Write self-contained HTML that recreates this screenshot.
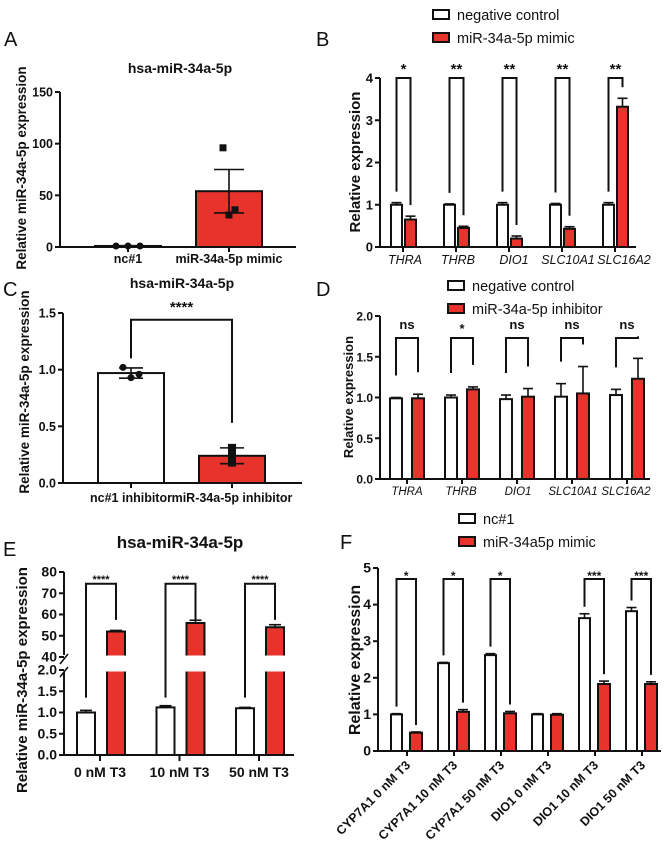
<!DOCTYPE html>
<html><head><meta charset="utf-8">
<style>
html,body{margin:0;padding:0;background:#fff;}
svg{display:block;font-family:"Liberation Sans",Arial,sans-serif;}
</style></head>
<body>
<svg id="fig" width="667" height="855" viewBox="0 0 667 855" xmlns="http://www.w3.org/2000/svg"></svg>
<script>
// ---------- DATA ----------
// Panel A
const aCats = ["nc#1", "miR-34a-5p mimic"];
const aMeans = [1, 54];
const aErr = [0.3, 21];
const aPoints = [[1, 1, 1], [96, 31, 36]];
const aTicks = [0, 50, 100, 150];
// Panel B
const bCats = ["THRA", "THRB", "DIO1", "SLC10A1", "SLC16A2"];
const bCtrl = [1, 1, 1, 1, 1];
const bCtrlErr = [0.05, 0.02, 0.05, 0.03, 0.05];
const bMimic = [0.65, 0.45, 0.2, 0.43, 3.32];
const bMimicErr = [0.08, 0.04, 0.06, 0.05, 0.2];
const bStars = ["*", "**", "**", "**", "**"];
const bTicks = [0, 1, 2, 3, 4];
// Panel C
const cCats = ["nc#1 inhibitor", "miR-34a-5p inhibitor"];
const cMeans = [0.97, 0.24];
const cErr = [0.045, 0.07];
const cPoints = [[1.02, 0.93, 0.96], [0.31, 0.2, 0.18, 0.26]];
const cTicks = [0, 0.5, 1.0, 1.5];
// Panel D
const dCats = ["THRA", "THRB", "DIO1", "SLC10A1", "SLC16A2"];
const dCtrl = [0.99, 1.0, 0.98, 1.01, 1.03];
const dCtrlErr = [0.01, 0.03, 0.05, 0.16, 0.07];
const dInh = [0.99, 1.1, 1.01, 1.05, 1.23];
const dInhErr = [0.05, 0.03, 0.1, 0.33, 0.25];
const dStars = ["ns", "*", "ns", "ns", "ns"];
const dTicks = [0, 0.5, 1.0, 1.5, 2.0];
// Panel E
const eCats = ["0 nM T3", "10 nM T3", "50 nM T3"];
const eCtrl = [1.0, 1.12, 1.1];
const eCtrlErr = [0.05, 0.04, 0.02];
const eMimic = [52, 56, 54];
const eMimicErr = [0.5, 1.3, 1.2];
const eLowTicks = [0, 0.5, 1.0, 1.5, 2.0];
const eHighTicks = [40, 50, 60, 70, 80];
// Panel F
const fCats = ["CYP7A1 0 nM T3", "CYP7A1 10 nM T3", "CYP7A1 50 nM T3", "DIO1 0 nM T3", "DIO1 10 nM T3", "DIO1 50 nM T3"];
const fCtrl = [1.0, 2.4, 2.62, 1.0, 3.63, 3.82];
const fCtrlErr = [0.02, 0.02, 0.04, 0.02, 0.12, 0.1];
const fMimic = [0.5, 1.07, 1.03, 0.99, 1.83, 1.83];
const fMimicErr = [0.02, 0.06, 0.05, 0.03, 0.08, 0.06];
const fStars = ["*", "*", "*", "", "***", "***"];
const fTicks = [0, 1, 2, 3, 4, 5];

// ---------- HELPERS ----------
const NS = "http://www.w3.org/2000/svg";
const svg = document.getElementById("fig");
const RED = "#e8322c";
function mk(tag, attrs, name, parent) {
  const e = document.createElementNS(NS, tag);
  for (const k in attrs) e.setAttribute(k, attrs[k]);
  
  
  (parent || svg).appendChild(e);
  return e;
}
function txt(x, y, s, name, opts) {
  opts = opts || {};
  const e = mk("text", {x: x, y: y, "font-size": opts.size || 12, "text-anchor": opts.anchor || "middle",
    "font-weight": opts.weight || "bold", "font-style": opts.style || "normal", fill: "#111"}, name, opts.parent);
  if (opts.rot !== undefined) e.setAttribute("transform", "rotate(" + opts.rot + " " + x + " " + y + ")");
  e.textContent = s;
  return e;
}
function line(x1, y1, x2, y2, name, w, g) {
  return mk("line", {x1: x1, y1: y1, x2: x2, y2: y2, stroke: "#111", "stroke-width": w || 2}, name, g);
}
function lin(d0, d1, r0, r1) { return v => r0 + (v - d0) * (r1 - r0) / (d1 - d0); }
function bar(x, w, y0, y1, fill, name, g) {
  return mk("rect", {x: x, y: Math.min(y0, y1), width: w, height: Math.abs(y0 - y1), fill: fill, stroke: "#111", "stroke-width": 2}, name, g);
}
function errbar(cx, yTop, yMid, half, name, g, yBot) {
  line(cx, yMid, cx, yTop, name + "-stem", 1.6, g);
  line(cx - half, yTop, cx + half, yTop, name + "-cap", 1.6, g);
  if (yBot !== undefined) line(cx - half, yBot, cx + half, yBot, name + "-cap-low", 1.6, g);
  if (yBot !== undefined) line(cx, yMid, cx, yBot, name + "-stem-low", 1.6, g);
}
function yAxis(x, ticks, y, fmt, name, g, size) {
  ticks.forEach(t => {
    line(x - 5, y(t), x, y(t), name + "-tick", 2, g);
    txt(x - 7, y(t) + 4.5, fmt(t), name + "-tick-label", {anchor: "end", parent: g, size: size || 13});
  });
}
function bracket(x1, y1, x2, y2, top, label, name, g, ty, size) {
  mk("polyline", {points: x1 + "," + y1 + " " + x1 + "," + top + " " + x2 + "," + top + " " + x2 + "," + y2, fill: "none", stroke: "#111", "stroke-width": 2}, name, g);
  txt((x1 + x2) / 2, ty, label, name + "-label", {parent: g, size: size || 14});
}
function legend(x, y, labels, name) {
  const g = mk("g", {}, name);
  labels.forEach((l, i) => {
    mk("rect", {x: x, y: y + i * 23 - 5, width: 16, height: 9, fill: i ? RED : "#fff", stroke: "#111", "stroke-width": 2}, "legend-swatch", g);
    txt(x + 24, y + i * 23 + 5, l, "legend-entry", {anchor: "start", weight: "normal", size: 14.5, parent: g});
  });
}

// ---------- PANEL LABELS ----------
[["A", 4, 46], ["B", 316, 46], ["C", 3, 296], ["D", 316, 296], ["E", 3, 556], ["F", 340, 549]].forEach(p => {
  txt(p[1], p[2], p[0], "panel-label-" + p[0].toLowerCase(), {anchor: "start", weight: "normal", size: 20});
});

// ---------- PANEL A ----------
(function () {
  const g = mk("g", {}, "panel-a");
  const y = lin(0, 150, 247, 92);
  const cx = [128, 229];
  txt(180, 73, "hsa-miR-34a-5p", "chart-title", {size: 14, parent: g});
  txt(26, 168, "Relative miR-34a-5p expression", "y-axis-title", {rot: -90, size: 13.5, parent: g});
  aMeans.forEach((m, i) => {
    bar(cx[i] - 33, 66, y(0), y(m), i ? RED : "#fff", "bar-" + i, g);
    errbar(cx[i], y(m + aErr[i]), y(m), 15, "error-bar", g, y(m - aErr[i]));
    aPoints[i].forEach((p, j) => {
      const px = cx[i] + (j - 1) * (i ? 6 : 12);
      if (i) mk("rect", {x: px - 3.5, y: y(p) - 3.5, width: 7, height: 7, fill: "#111"}, "data-point", g);
      else mk("circle", {cx: px, cy: y(p), r: 3.5, fill: "#111"}, "data-point", g);
    });
  });
  line(60, 92, 60, 248, "y-axis", 2, g);
  line(59, 247, 296, 247, "x-axis", 2, g);
  yAxis(60, aTicks, y, t => String(t), "y", g, 12.5);
  aCats.forEach((c, i) => { line(cx[i], 247, cx[i], 252, "x-tick", 2, g); txt(cx[i], 263, c, "x-tick-label", {parent: g, size: 12.5}); });
})();

// ---------- PANEL B ----------
legend(433, 15, ["negative control", "miR-34a-5p mimic"], "legend-b");
(function () {
  const g = mk("g", {}, "panel-b");
  const y = lin(0, 4, 247, 78);
  txt(360, 162, "Relative expression", "y-axis-title", {rot: -90, size: 15, parent: g});
  const lcx = [405, 458, 514, 568, 624];
  bCats.forEach((c, i) => {
    const cx = 403 + 53 * i;
    bar(cx - 12, 11, y(0), y(bCtrl[i]), "#fff", "bar-control-" + c, g);
    errbar(cx - 6.5, y(bCtrl[i] + bCtrlErr[i]), y(bCtrl[i]), 5, "error-bar", g);
    bar(cx + 2, 11, y(0), y(bMimic[i]), RED, "bar-mimic-" + c, g);
    errbar(cx + 7.5, y(bMimic[i] + bMimicErr[i]), y(bMimic[i]), 5, "error-bar", g);
    bracket(cx - 6.5, y(bCtrl[i] + bCtrlErr[i]) - 11, cx + 7.5, y(bMimic[i] + bMimicErr[i]) - 11, y(4), bStars[i], "significance-bracket", g, 74, 15);
    line(cx, 247, cx, 252, "x-tick", 2, g);
    txt(lcx[i], 264, c, "x-tick-label", {parent: g, weight: "normal", style: "italic", size: 12.5});
  });
  line(380, 78, 380, 248, "y-axis", 2, g);
  line(379, 247, 636, 247, "x-axis", 2, g);
  yAxis(380, bTicks, y, t => String(t), "y", g, 13);
})();

// ---------- PANEL C ----------
(function () {
  const g = mk("g", {}, "panel-c");
  const y = lin(0, 1.5, 483, 313);
  const cx = [131, 232];
  txt(182, 288, "hsa-miR-34a-5p", "chart-title", {size: 14, parent: g});
  txt(29, 392, "Relative miR-34a-5p expression", "y-axis-title", {rot: -90, size: 13.5, parent: g});
  cMeans.forEach((m, i) => {
    bar(cx[i] - 33, 66, y(0), y(m), i ? RED : "#fff", "bar-" + i, g);
    cPoints[i].forEach((p, j) => {
      const px = cx[i] + (i ? 0 : (j - 1) * 8);
      mk(i ? "rect" : "circle", i ? {x: px - 4, y: y(p) - 4, width: 8, height: 8, fill: "#111"} : {cx: px, cy: y(p), r: 3.5, fill: "#111"}, "data-point", g);
    });
    errbar(cx[i], y(m + cErr[i]), y(m), 12, "error-bar", g, y(m - cErr[i]));
  });
  bracket(cx[0], y(1.1), cx[1], y(0.53), y(1.44), "****", "significance-bracket", g, 312, 15);
  line(63, 313, 63, 484, "y-axis", 2, g);
  line(62, 483, 302, 483, "x-axis", 2, g);
  yAxis(63, cTicks, y, t => t.toFixed(1), "y", g, 12.5);
  cCats.forEach((c, i) => { line(cx[i], 483, cx[i], 488, "x-tick", 2, g); txt(cx[i], 502, c, "x-tick-label", {parent: g, size: 12.5}); });
})();

// ---------- PANEL D ----------
legend(448, 286, ["negative control", "miR-34a-5p inhibitor"], "legend-d");
(function () {
  const g = mk("g", {}, "panel-d");
  const y = lin(0, 2, 479, 316);
  txt(353, 397, "Relative expression", "y-axis-title", {rot: -90, size: 13, parent: g});
  const lcx = [407, 461, 518, 573, 626];
  dCats.forEach((c, i) => {
    const cx = 407 + 55 * i;
    bar(cx - 17, 12, y(0), y(dCtrl[i]), "#fff", "bar-control-" + c, g);
    errbar(cx - 11, y(dCtrl[i] + dCtrlErr[i]), y(dCtrl[i]), 5, "error-bar", g);
    bar(cx + 5, 12, y(0), y(dInh[i]), RED, "bar-inhibitor-" + c, g);
    errbar(cx + 11, y(dInh[i] + dInhErr[i]), y(dInh[i]), 5, "error-bar", g);
    bracket(cx - 11, y(dCtrl[i] + dCtrlErr[i]) - 22, cx + 11, y(dInh[i] + dInhErr[i]) - 22, y(1.73), dStars[i], "significance-bracket", g, dStars[i] === "*" ? 333 : 329, 13);
    line(cx, 479, cx, 484, "x-tick", 2, g);
    txt(lcx[i], 495, c, "x-tick-label", {parent: g, weight: "normal", style: "italic", size: 11.5});
  });
  line(380, 316, 380, 480, "y-axis", 2, g);
  line(379, 479, 650, 479, "x-axis", 2, g);
  yAxis(380, dTicks, y, t => t.toFixed(1), "y", g, 12);
})();

// ---------- PANEL E ----------
(function () {
  const g = mk("g", {}, "panel-e");
  const yl = lin(0, 2, 755, 670);
  const yh = lin(40, 80, 657, 572);
  txt(180, 548, "hsa-miR-34a-5p", "chart-title", {size: 17, parent: g});
  txt(27, 680, "Relative miR-34a-5p expression", "y-axis-title", {rot: -90, size: 15, parent: g});
  eCats.forEach((c, i) => {
    const cx = 100 + 79.5 * i;
    bar(cx - 23, 18, yl(0), yl(eCtrl[i]), "#fff", "bar-control-" + i, g);
    errbar(cx - 14, yl(eCtrl[i] + eCtrlErr[i]), yl(eCtrl[i]), 6, "error-bar", g);
    mk("rect", {x: cx + 7, y: yl(2), width: 18, height: yl(0) - yl(2), fill: RED, stroke: "#111", "stroke-width": 2}, "bar-mimic-lower-" + i, g);
    mk("rect", {x: cx + 7, y: yh(eMimic[i]), width: 18, height: yh(40) - yh(eMimic[i]), fill: RED, stroke: "#111", "stroke-width": 2}, "bar-mimic-upper-" + i, g);
    mk("rect", {x: cx + 5, y: yl(2) - 1.5, width: 22, height: 3, fill: "#fff"}, "bar-break-gap", g);
    mk("rect", {x: cx + 5, y: yh(40) - 1.5, width: 22, height: 3, fill: "#fff"}, "bar-break-gap", g);
    errbar(cx + 16, yh(eMimic[i] + eMimicErr[i]), yh(eMimic[i]), 6, "error-bar", g);
    bracket(cx - 14, yl(1.35), cx + 16, yh(57.5), yh(74.5), "****", "significance-bracket", g, 583, 11);
    line(cx, 755, cx, 761, "x-tick", 2, g);
    txt(cx, 777, c, "x-tick-label", {parent: g, size: 14});
  });
  line(64, 572, 64, 655, "y-axis-upper", 2, g);
  line(64, 672, 64, 756, "y-axis-lower", 2, g);
  line(60, 664, 68, 654, "axis-break-mark", 1.6, g);
  line(60, 677, 68, 667, "axis-break-mark", 1.6, g);
  line(63, 755, 294, 755, "x-axis", 2, g);
  yAxis(64, eLowTicks, yl, t => t.toFixed(1), "y-low", g, 14);
  yAxis(64, eHighTicks, yh, t => String(t), "y-high", g, 14);
})();

// ---------- PANEL F ----------
legend(459, 519, ["nc#1", "miR-34a5p mimic"], "legend-f");
(function () {
  const g = mk("g", {}, "panel-f");
  const y = lin(0, 5, 751, 568);
  txt(360, 660, "Relative expression", "y-axis-title", {rot: -90, size: 16, parent: g});
  fCats.forEach((c, i) => {
    const cx = 407 + 47 * i;
    bar(cx - 16, 11, y(0), y(fCtrl[i]), "#fff", "bar-control-" + i, g);
    errbar(cx - 10.5, y(fCtrl[i] + fCtrlErr[i]), y(fCtrl[i]), 5, "error-bar", g);
    bar(cx + 3, 12, y(0), y(fMimic[i]), RED, "bar-mimic-" + i, g);
    errbar(cx + 9, y(fMimic[i] + fMimicErr[i]), y(fMimic[i]), 5, "error-bar", g);
    if (fStars[i]) bracket(cx - 10.5, y(fCtrl[i] + fCtrlErr[i]) - 7, cx + 9, y(fMimic[i] + fMimicErr[i]) - 7, y(4.7), fStars[i], "significance-bracket", g, 580, 12);
    line(cx, 751, cx, 756, "x-tick", 2, g);
    txt(cx + 4, 766, c, "x-tick-label", {parent: g, anchor: "end", size: 12.5, rot: -45});
  });
  line(378, 568, 378, 752, "y-axis", 2, g);
  line(377, 751, 661, 751, "x-axis", 2, g);
  yAxis(378, fTicks, y, t => String(t), "y", g, 14);
})();
</script>
</body></html>
